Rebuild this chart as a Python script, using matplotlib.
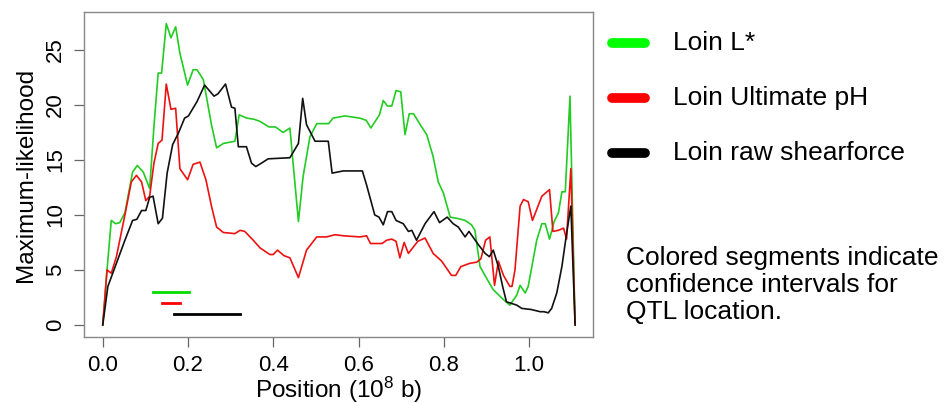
import matplotlib
matplotlib.use('Agg')
import matplotlib.pyplot as plt
from matplotlib.lines import Line2D

plt.rcParams['font.family'] = ['Liberation Sans', 'DejaVu Sans']
plt.rcParams['mathtext.fontset'] = 'custom'
plt.rcParams['mathtext.rm'] = 'Liberation Sans'
plt.rcParams['mathtext.default'] = 'rm'

# Loin L* (green)
green_x = [0.000, 0.010, 0.020, 0.030, 0.040, 0.052, 0.070, 0.081, 0.095, 0.110, 0.120,
           0.130, 0.138, 0.149, 0.160, 0.171, 0.181, 0.199, 0.212, 0.221, 0.236, 0.255,
           0.267, 0.283, 0.310, 0.320, 0.338, 0.355, 0.369, 0.390, 0.405, 0.423, 0.439,
           0.459, 0.470, 0.486, 0.502, 0.530, 0.540, 0.568, 0.603, 0.618, 0.629, 0.649,
           0.658, 0.668, 0.678, 0.688, 0.699, 0.709, 0.719, 0.729, 0.748, 0.760, 0.775,
           0.787, 0.799, 0.815, 0.830, 0.850, 0.865, 0.873, 0.885, 0.901, 0.916, 0.940,
           0.955, 0.971, 0.979, 0.991, 0.998, 1.018, 1.030, 1.038, 1.048, 1.059, 1.069,
           1.077, 1.085, 1.096, 1.108]
green_y = [0.0, 5.0, 9.5, 9.2, 9.3, 10.2, 13.9, 14.5, 13.9, 12.4, 18.0,
           22.9, 22.9, 27.4, 26.1, 27.1, 24.7, 21.8, 23.2, 23.2, 22.3, 18.2,
           16.1, 16.5, 16.7, 19.1, 18.8, 18.7, 18.5, 18.0, 18.0, 17.5, 17.9,
           9.4, 13.5, 17.1, 18.3, 18.3, 18.8, 19.0, 18.8, 18.6, 17.9, 19.1,
           20.4, 19.9, 19.9, 21.3, 21.2, 17.3, 19.2, 19.2, 18.0, 17.3, 15.3,
           13.0, 12.0, 9.8, 9.7, 9.5, 9.1, 8.6, 5.3, 4.2, 3.2, 2.3,
           1.8, 2.7, 3.6, 2.9, 3.5, 7.7, 9.2, 9.2, 7.8, 9.4, 10.2,
           12.1, 12.1, 20.8, 0.0]

# Loin Ultimate pH (red)
red_x = [0.000, 0.010, 0.020, 0.032, 0.052, 0.067, 0.079, 0.091, 0.101, 0.110, 0.120,
         0.130, 0.139, 0.149, 0.160, 0.171, 0.181, 0.199, 0.212, 0.228, 0.242, 0.255,
         0.267, 0.283, 0.310, 0.322, 0.333, 0.353, 0.369, 0.392, 0.400, 0.410, 0.425,
         0.439, 0.459, 0.478, 0.502, 0.525, 0.545, 0.565, 0.603, 0.619, 0.628, 0.655,
         0.666, 0.678, 0.688, 0.697, 0.707, 0.717, 0.727, 0.739, 0.756, 0.775, 0.795,
         0.818, 0.828, 0.840, 0.861, 0.877, 0.887, 0.898, 0.908, 0.919, 0.928, 0.940,
         0.955, 0.960, 0.967, 0.979, 0.987, 0.998, 1.008, 1.030, 1.048, 1.056, 1.069,
         1.081, 1.088, 1.098, 1.108]
red_y = [0.0, 5.0, 4.7, 6.2, 10.0, 13.0, 13.6, 13.0, 11.3, 11.7, 14.7,
         16.5, 16.8, 21.9, 19.6, 19.7, 14.2, 13.2, 14.6, 14.8, 13.2, 10.8,
         8.9, 8.4, 8.3, 8.6, 8.5, 7.7, 7.0, 6.4, 6.4, 6.8, 6.3,
         6.1, 4.3, 6.8, 8.0, 8.0, 8.2, 8.1, 8.0, 8.1, 7.4, 7.4,
         7.7, 7.8, 7.6, 6.1, 7.5, 6.5, 7.0, 7.6, 7.9, 6.5, 5.8,
         4.5, 4.5, 5.3, 5.6, 5.7, 6.0, 7.7, 8.0, 3.6, 5.8, 4.5,
         3.5, 3.5, 5.0, 10.8, 11.4, 11.2, 9.5, 11.7, 12.3, 8.5, 8.6,
         8.8, 7.8, 14.2, 0.0]

# Loin raw shearforce (black)
black_x = [0.000, 0.012, 0.032, 0.052, 0.070, 0.080, 0.091, 0.101, 0.110, 0.118, 0.130,
           0.140, 0.151, 0.164, 0.177, 0.192, 0.201, 0.221, 0.239, 0.261, 0.270, 0.288,
           0.302, 0.310, 0.318, 0.337, 0.349, 0.359, 0.372, 0.388, 0.439, 0.459, 0.469,
           0.478, 0.498, 0.529, 0.538, 0.564, 0.609, 0.619, 0.638, 0.648, 0.658, 0.668,
           0.678, 0.688, 0.705, 0.717, 0.725, 0.736, 0.756, 0.777, 0.790, 0.808, 0.822,
           0.834, 0.850, 0.859, 0.881, 0.897, 0.907, 0.916, 0.928, 0.938, 0.947, 0.971,
           0.983, 1.005, 1.026, 1.035, 1.045, 1.053, 1.065, 1.077, 1.088, 1.098, 1.108]
black_y = [0.0, 3.5, 5.6, 7.7, 9.5, 9.6, 10.4, 10.4, 11.6, 11.7, 9.2,
           9.7, 13.8, 16.4, 17.4, 18.8, 19.0, 20.3, 21.8, 20.8, 21.0, 21.9,
           19.8, 19.7, 16.2, 16.2, 14.7, 14.4, 14.7, 15.1, 15.2, 16.5, 20.6,
           18.2, 16.7, 16.7, 13.8, 14.0, 14.0, 12.7, 10.0, 9.8, 9.1, 10.3,
           10.3, 9.5, 9.2, 8.5, 8.6, 7.7, 9.2, 10.3, 9.3, 9.8, 9.2,
           8.9, 8.0, 8.5, 7.3, 6.5, 6.2, 6.8, 5.3, 3.5, 2.1, 1.8,
           1.5, 1.4, 1.2, 1.2, 1.1, 1.5, 2.9, 5.3, 8.3, 10.8, 0.0]

# Confidence intervals: (start, end, height)
ci_green = [0.118, 0.202, 3.0]
ci_red = [0.138, 0.182, 2.0]
ci_black = [0.167, 0.322, 1.0]

labels = ['Loin L*', 'Loin Ultimate pH', 'Loin raw shearforce']
note = 'Colored segments indicate\nconfidence intervals for\nQTL location.'

fig = plt.figure(figsize=(9.53, 4.03), dpi=100)
ax = fig.add_axes([84 / 953, 1 - 337 / 403, (593 - 84) / 953, (337 - 12) / 403])

ax.plot(green_x, green_y, color='#22cc22', lw=1.2)
ax.plot(red_x, red_y, color='#ee1111', lw=1.2)
ax.plot(black_x, black_y, color='#111111', lw=1.2)

ax.plot(ci_green[:2], [ci_green[2]] * 2, color='#00dd00', lw=2)
ax.plot(ci_red[:2], [ci_red[2]] * 2, color='#ff0000', lw=2)
ax.plot(ci_black[:2], [ci_black[2]] * 2, color='#000000', lw=2)

ax.set_xlim(-0.044, 1.150)
ax.set_ylim(-1.1, 28.45)
ax.set_xticks([0.0, 0.2, 0.4, 0.6, 0.8, 1.0])
ax.set_xticklabels(['0.0', '0.2', '0.4', '0.6', '0.8', '1.0'])
ax.set_yticks([0, 5, 10, 15, 20, 25])
for lab in ax.get_yticklabels():
    lab.set_rotation(90)
    lab.set_va('center')

for spine in ax.spines.values():
    spine.set_edgecolor('#888888')
    spine.set_linewidth(1.0)

ax.tick_params(axis='both', length=7, width=0.9, color='#666666', labelsize=16, pad=6)
ax.set_xlabel('Position (10$^{8}$ b)', fontsize=17.5, labelpad=-1)
ax.set_ylabel('Maximum-likelihood', fontsize=17.5, labelpad=6)

# legend drawn by hand in figure pixels
leg_colors = ['#00ff00', '#ff0000', '#000000']
leg_y = [42.7, 98.3, 153.3]
for c, yy, lab in zip(leg_colors, leg_y, labels):
    fig.add_artist(Line2D([612 / 953, 645 / 953], [1 - yy / 403] * 2, color=c, lw=7,
                          solid_capstyle='round'))
    fig.text(673 / 953, 1 - yy / 403, lab, fontsize=19, va='center', ha='left')

fig.text(626 / 953, 1 - 285 / 403, note, fontsize=19, va='center', ha='left', linespacing=1.15)

fig.savefig('out.png', dpi=100)
